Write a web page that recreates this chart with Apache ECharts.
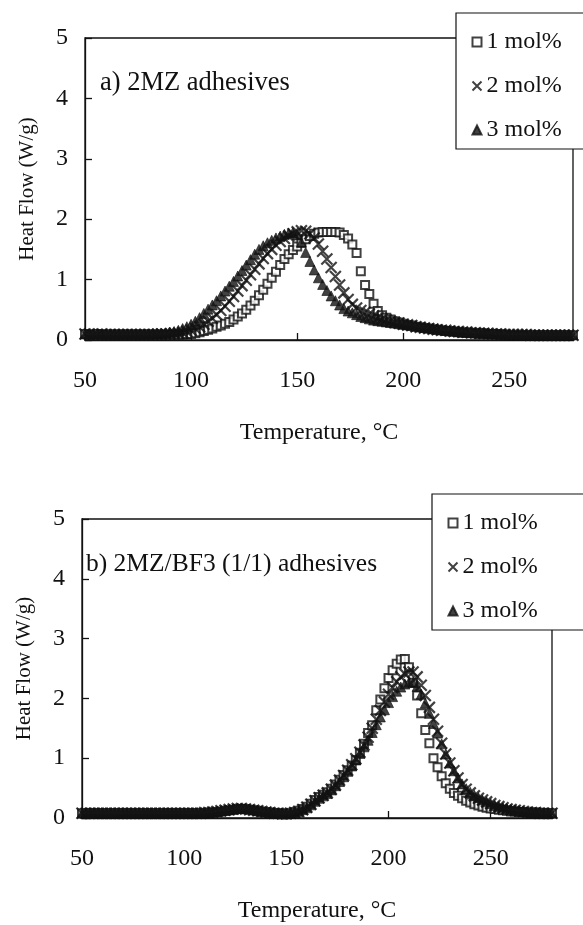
<!DOCTYPE html>
<html><head><meta charset="utf-8">
<script src="https://cdn.jsdelivr.net/npm/echarts@6/dist/echarts.min.js"></script>
<style>html,body{margin:0;padding:0;background:#fff}#c{width:583px;height:925px}</style>
</head><body><div id="c"></div>
<script>
var temps = [
 50,52,54,56,58,60,62,64,66,68,
 70,72,74,76,78,80,82,84,86,88,
 90,92,94,96,98,100,102,104,106,108,
 110,112,114,116,118,120,122,124,126,128,
 130,132,134,136,138,140,142,144,146,148,
 150,152,154,156,158,160,162,164,166,168,
 170,172,174,176,178,180,182,184,186,188,
 190,192,194,196,198,200,202,204,206,208,
 210,212,214,216,218,220,222,224,226,228,
 230,232,234,236,238,240,242,244,246,248,
 250,252,254,256,258,260,262,264,266,268,
 270,272,274,276,278,280];

var seriesNames = ['1 mol%', '2 mol%', '3 mol%'];
var xTicks = [50, 100, 150, 200, 250];
var yTicks = [0, 1, 2, 3, 4, 5];

// a) 2MZ adhesives
var a1 = [
 0.10,0.09,0.09,0.10,0.09,0.09,0.09,0.09,0.09,0.09,
 0.09,0.09,0.09,0.09,0.09,0.09,0.09,0.09,0.09,0.09,
 0.09,0.09,0.09,0.09,0.10,0.10,0.11,0.13,0.15,0.17,
 0.19,0.22,0.24,0.27,0.30,0.34,0.39,0.44,0.50,0.57,
 0.65,0.74,0.83,0.93,1.03,1.13,1.24,1.34,1.42,1.49,
 1.55,1.61,1.67,1.72,1.76,1.78,1.79,1.79,1.79,1.79,
 1.78,1.74,1.68,1.58,1.44,1.14,0.91,0.76,0.60,0.48,
 0.41,0.37,0.34,0.31,0.29,0.27,0.25,0.24,0.22,0.21,
 0.20,0.19,0.18,0.17,0.16,0.15,0.15,0.14,0.13,0.13,
 0.12,0.12,0.11,0.11,0.11,0.10,0.10,0.10,0.09,0.09,
 0.08,0.08,0.08,0.08,0.08,0.08,0.08,0.08,0.08,0.08,
 0.08,0.08,0.08,0.08,0.08,0.08];
var a2 = [
 0.10,0.10,0.09,0.09,0.10,0.09,0.09,0.09,0.09,0.09,
 0.09,0.09,0.09,0.09,0.09,0.09,0.09,0.09,0.10,0.10,
 0.10,0.11,0.11,0.12,0.14,0.16,0.19,0.22,0.26,0.31,
 0.36,0.42,0.49,0.56,0.64,0.72,0.81,0.90,0.99,1.08,
 1.17,1.26,1.35,1.43,1.50,1.57,1.63,1.68,1.72,1.76,
 1.79,1.81,1.80,1.76,1.69,1.59,1.47,1.34,1.20,1.05,
 0.91,0.78,0.67,0.59,0.53,0.49,0.46,0.43,0.40,0.37,
 0.35,0.33,0.31,0.29,0.28,0.26,0.25,0.24,0.22,0.21,
 0.20,0.19,0.18,0.17,0.16,0.16,0.15,0.14,0.14,0.13,
 0.13,0.12,0.12,0.11,0.11,0.11,0.10,0.10,0.10,0.09,
 0.09,0.09,0.09,0.09,0.09,0.08,0.08,0.08,0.08,0.08,
 0.08,0.08,0.08,0.08,0.08,0.08];
var a3 = [
 0.10,0.10,0.10,0.10,0.10,0.10,0.10,0.10,0.10,0.10,
 0.10,0.10,0.10,0.10,0.10,0.10,0.11,0.11,0.11,0.12,
 0.13,0.14,0.16,0.19,0.22,0.26,0.31,0.37,0.44,0.51,
 0.58,0.65,0.73,0.81,0.89,0.97,1.06,1.15,1.24,1.33,
 1.42,1.50,1.56,1.61,1.65,1.69,1.72,1.75,1.77,1.78,
 1.74,1.62,1.45,1.30,1.16,1.03,0.92,0.82,0.73,0.65,
 0.58,0.52,0.48,0.45,0.42,0.39,0.37,0.35,0.33,0.32,
 0.31,0.30,0.29,0.28,0.27,0.26,0.25,0.24,0.23,0.22,
 0.21,0.20,0.19,0.18,0.17,0.16,0.15,0.15,0.14,0.13,
 0.13,0.12,0.12,0.11,0.11,0.11,0.10,0.10,0.10,0.09,
 0.09,0.09,0.09,0.09,0.09,0.09,0.09,0.09,0.09,0.09,
 0.09,0.09,0.09,0.09,0.09,0.09];

// b) 2MZ/BF3 (1/1) adhesives
var b1 = [
 0.08,0.08,0.08,0.08,0.08,0.08,0.08,0.08,0.08,0.08,
 0.08,0.08,0.08,0.08,0.08,0.08,0.08,0.08,0.08,0.08,
 0.08,0.08,0.08,0.08,0.08,0.08,0.08,0.08,0.08,0.08,
 0.08,0.09,0.09,0.10,0.11,0.12,0.13,0.14,0.15,0.15,
 0.15,0.14,0.13,0.12,0.11,0.10,0.09,0.08,0.08,0.07,
 0.07,0.08,0.10,0.12,0.15,0.19,0.24,0.30,0.35,0.39,
 0.43,0.49,0.56,0.64,0.72,0.80,0.88,0.97,1.09,1.24,
 1.42,1.55,1.80,1.98,2.17,2.34,2.47,2.58,2.65,2.66,
 2.52,2.26,2.05,1.75,1.47,1.25,1.00,0.85,0.70,0.58,
 0.49,0.42,0.37,0.33,0.29,0.26,0.23,0.21,0.19,0.17,
 0.16,0.15,0.14,0.13,0.12,0.11,0.11,0.10,0.10,0.09,
 0.09,0.09,0.08,0.08,0.08,0.08];
var b2 = [
 0.08,0.08,0.08,0.08,0.08,0.08,0.08,0.08,0.08,0.08,
 0.08,0.08,0.08,0.08,0.08,0.08,0.08,0.08,0.08,0.08,
 0.08,0.08,0.08,0.08,0.08,0.08,0.08,0.08,0.08,0.08,
 0.09,0.09,0.10,0.11,0.12,0.13,0.14,0.15,0.16,0.16,
 0.15,0.14,0.13,0.12,0.11,0.10,0.09,0.08,0.08,0.07,
 0.07,0.08,0.09,0.11,0.14,0.18,0.23,0.29,0.34,0.38,
 0.42,0.48,0.55,0.63,0.71,0.80,0.89,0.99,1.10,1.22,
 1.35,1.50,1.65,1.80,1.94,2.07,2.18,2.28,2.36,2.41,
 2.44,2.44,2.36,2.22,2.05,1.85,1.65,1.45,1.25,1.07,
 0.92,0.79,0.67,0.56,0.48,0.42,0.37,0.33,0.30,0.27,
 0.24,0.21,0.19,0.17,0.15,0.14,0.13,0.12,0.11,0.10,
 0.09,0.09,0.08,0.08,0.08,0.08];
var b3 = [
 0.08,0.08,0.08,0.08,0.08,0.08,0.08,0.08,0.08,0.08,
 0.08,0.08,0.08,0.08,0.08,0.08,0.08,0.08,0.08,0.08,
 0.08,0.08,0.08,0.08,0.08,0.08,0.08,0.08,0.08,0.08,
 0.08,0.09,0.10,0.11,0.12,0.13,0.14,0.15,0.16,0.16,
 0.16,0.15,0.14,0.12,0.11,0.10,0.09,0.08,0.08,0.07,
 0.07,0.08,0.09,0.11,0.14,0.17,0.22,0.28,0.33,0.37,
 0.41,0.47,0.54,0.61,0.69,0.78,0.87,0.97,1.08,1.19,
 1.30,1.43,1.56,1.69,1.81,1.93,2.03,2.12,2.19,2.24,
 2.27,2.27,2.20,2.07,1.92,1.75,1.58,1.42,1.24,1.07,
 0.92,0.79,0.67,0.57,0.49,0.43,0.38,0.34,0.30,0.27,
 0.24,0.21,0.19,0.17,0.15,0.14,0.13,0.12,0.11,0.10,
 0.09,0.09,0.09,0.08,0.08,0.08];

function pairs(ys){ var out=[]; for (var i=0;i<temps.length;i++) out.push([temps[i], ys[i]]); return out; }

var FONT = '"Liberation Serif", "Times New Roman", serif';
var INK = '#111111';
var CROSS = 'path://M0,0L10,10M10,0L0,10';
var FS = 24;

function mkSeries(name, ys, idx){
  var s = {name:name, type:'scatter', xAxisIndex:idx, yAxisIndex:idx, data:pairs(ys), animation:false, z:3};
  if (name === seriesNames[0]) { s.symbol='emptyRect'; s.symbolSize=8; s.itemStyle={color:INK, borderColor:INK, borderWidth:1.9}; }
  else if (name === seriesNames[1]) { s.symbol=CROSS; s.symbolSize=11; s.itemStyle={color:'none', borderColor:INK, borderWidth:2.2}; }
  else { s.symbol='triangle'; s.symbolSize=10; s.itemStyle={color:INK, borderColor:INK, borderWidth:0.8}; }
  return s;
}

function xAx(idx, pad){
  return {type:'value', gridIndex:idx, min:xTicks[0], max:280, interval:50,
    axisLine:{show:true, onZero:false, lineStyle:{color:INK, width:1.3}},
    axisTick:{show:true, inside:true, length:7, lineStyle:{color:INK, width:1.3}},
    axisLabel:{color:INK, fontFamily:FONT, fontSize:FS, margin:29, showMaxLabel:false},
    splitLine:{show:false},
    name:'Temperature, \u00b0C', nameLocation:'middle', nameGap:81,
    nameTextStyle:{color:INK, fontFamily:FONT, fontSize:FS, padding:pad}};
}
function yAx(idx){
  return {type:'value', gridIndex:idx, min:yTicks[0], max:yTicks[yTicks.length-1], interval:1,
    axisLine:{show:true, lineStyle:{color:INK, width:1.3}},
    axisTick:{show:true, inside:true, length:7, lineStyle:{color:INK, width:1.3}},
    axisLabel:{color:INK, fontFamily:FONT, fontSize:FS, margin:17},
    splitLine:{show:false},
    name:'Heat Flow (W/g)', nameLocation:'middle', nameGap:47,
    nameTextStyle:{color:INK, fontFamily:FONT, fontSize:21}};
}
function legend(idx, left, top){
  return {show:true, orient:'vertical', left:left, top:top, data:seriesNames,
    backgroundColor:'#fff', borderColor:INK, borderWidth:1.2,
    padding:[17, 60, 7, 14], itemGap:20, itemWidth:9, itemHeight:9,
    textStyle:{color:INK, fontFamily:FONT, fontSize:FS}, z:10, selectedMode:false};
}

var chart = echarts.init(document.getElementById('c'), null, {renderer:'canvas'});
chart.setOption({
  backgroundColor:'#fff',
  animation:false,
  grid:[
    {left:85, top:38, width:488, height:302, show:true, borderColor:INK, borderWidth:1.3, backgroundColor:'transparent'},
    {left:82, top:519, width:470, height:299, show:true, borderColor:INK, borderWidth:1.3, backgroundColor:'transparent'}
  ],
  xAxis:[xAx(0, [0, 20, 0, 0]), xAx(1, [0, 0, 0, 0])],
  yAxis:[yAx(0), yAx(1)],
  legend:[legend(0, 456, 13), legend(1, 432, 494)],
  graphic:[
    {type:'text', left:100, top:70, z:20, style:{text:'a) 2MZ adhesives', font:'26.5px ' + FONT, fill:INK}},
    {type:'text', left:86, top:551, z:20, style:{text:'b) 2MZ/BF3 (1/1) adhesives', font:'25.5px ' + FONT, fill:INK}}
  ],
  series:[
    mkSeries(seriesNames[0], a1, 0), mkSeries(seriesNames[1], a2, 0), mkSeries(seriesNames[2], a3, 0),
    mkSeries(seriesNames[0], b1, 1), mkSeries(seriesNames[1], b2, 1), mkSeries(seriesNames[2], b3, 1)
  ]
});
</script></body></html>
